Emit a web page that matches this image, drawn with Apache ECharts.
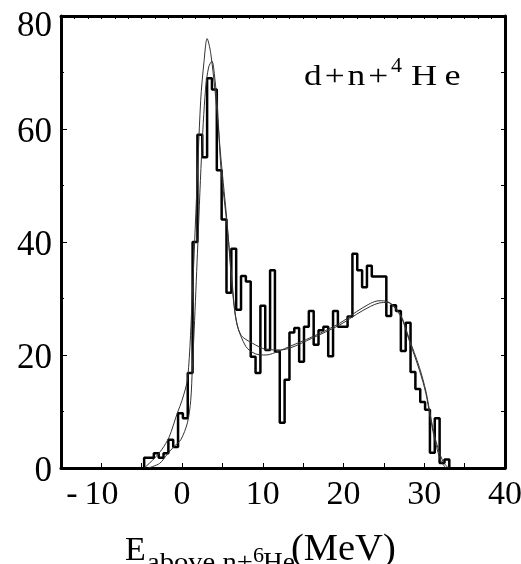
<!DOCTYPE html>
<html>
<head>
<meta charset="utf-8">
<script src="https://cdn.jsdelivr.net/npm/echarts@6/dist/echarts.min.js"></script>
<style>
html,body{margin:0;padding:0;background:#fff}
#c{width:521px;height:564px}
</style>
</head>
<body>
<div id="c"></div>
<script>
// Histogram: first bin edge and bin width (MeV), counts per bin
const binStart = -4.7;
const binWidth = 0.6;
const counts = [
  1.8, 1.8, 2.6, 1.8, 2.6, 5, 3.7, 9.7, 8.8, 16.8,
  40, 59, 55, 69, 67, 52.7, 44, 31, 38.8, 28,
  34, 33, 19.7, 16.8, 28.7, 20.9, 35, 20.6, 8, 15.6,
  24, 24.8, 18.8, 25, 27.8, 21.8, 24.4, 25, 19.8, 27.8,
  25, 25, 26.8, 37.9, 35, 32, 35.8, 33.9, 33.9, 33.9,
  26.9, 28.8, 27.8, 20.7, 25.7, 17, 14, 11.7, 10.3, 2.7,
  8.8, 0.9, 1.5
];

// Fitted spectra [E (MeV), counts]
const fitA = [
  [-4.7, 0], [-3.5, 1.6], [-2.5, 3.3], [-1.6, 5.5], [-0.6, 9.7], [0, 12],
  [0.7, 16], [1.28, 31], [1.7, 45], [2.3, 65], [2.7, 71.7], [3.1, 76],
  [3.55, 73.4], [4.2, 65], [4.8, 55], [5.6, 43], [6.2, 32], [6.8, 25.5],
  [7.9, 21.5], [9.1, 20.2], [10.4, 20], [12, 20.7], [13.3, 21.5], [16.1, 23.2],
  [19.5, 25.6], [22.3, 28.3], [24.4, 29.6], [25.5, 29.4], [27.1, 26.8],
  [28.1, 22.7], [29.4, 17.3], [30.2, 13.2], [30.8, 8.5], [31.4, 4.4],
  [32.1, 1.1], [32.7, 0]
];
const fitB = [
  [-4.2, 0], [-2.8, 0.8], [-1.8, 2.5], [-1.0, 3.8], [-0.16, 5], [0.66, 8],
  [1.07, 12], [1.28, 18], [1.5, 24.5], [1.9, 38], [2.4, 55], [2.9, 67],
  [3.3, 71], [3.7, 72], [4.05, 69], [4.4, 63.4], [4.8, 53.3], [5.6, 42.5],
  [6.2, 33], [6.65, 26.5], [7.3, 23.5], [8.7, 22.1], [10.4, 21], [12.2, 20.9],
  [13.5, 21.3], [16, 22.9], [19.5, 25.3], [22.3, 27.8], [24.4, 29.2],
  [25.5, 29.3], [27.1, 27], [28.1, 23], [29.4, 17.8], [30.2, 13.6],
  [30.8, 9], [31.4, 5], [32.3, 1.2], [33.0, 0]
];

// Axis ranges and labelled ticks
const xRange = [-15, 40];
const yRange = [0, 80];
const xLabels = [-10, 0, 10, 20, 30, 40];
const yLabels = [0, 20, 40, 60, 80];

// Step outline of the histogram
const histLine = [[binStart, 0]];
counts.forEach((v, i) => {
  const x0 = +(binStart + i * binWidth).toFixed(3);
  const x1 = +(binStart + (i + 1) * binWidth).toFixed(3);
  histLine.push([x0, v], [x1, v]);
});
histLine.push([+(binStart + counts.length * binWidth).toFixed(3), 0]);

const SERIF = '"Liberation Serif", "Times New Roman", serif';
const frame = { show: true, onZero: false, lineStyle: { color: '#000', width: 3 } };
const txt = (text, x, y, size, sx) => ({
  type: 'text', x: x, y: y, scaleX: sx || 1,
  style: { text: text, font: size + 'px ' + SERIF, fill: '#000', verticalAlign: 'top' }
});

const chart = echarts.init(document.getElementById('c'));
chart.setOption({
  animation: false,
  backgroundColor: '#fff',
  grid: { left: 61, right: 16, top: 16, bottom: 96, outerBoundsMode: 'none', containLabel: false },
  xAxis: [
    {
      type: 'value', position: 'bottom', min: xRange[0], max: xRange[1], interval: 5,
      axisLine: frame,
      axisTick: { show: true, inside: true, length: 5, lineStyle: { color: '#000', width: 1 } },
      axisLabel: {
        margin: 10, color: '#000', fontFamily: SERIF, fontSize: 34,
        formatter: v => {
          if (!xLabels.includes(v)) return '';
          return v < 0 ? '{neg|-\u2009' + Math.abs(v) + '}' : String(v);
        },
        rich: { neg: { fontFamily: SERIF, fontSize: 34, color: '#000', padding: [0, 18, 0, 0] } }
      },
      splitLine: { show: false }
    },
    {
      type: 'value', position: 'top', min: xRange[0], max: xRange[1], interval: 5,
      axisLine: frame,
      axisTick: { show: true, inside: true, length: 3, lineStyle: { color: '#000', width: 1 } },
      minorTick: { show: true, splitNumber: 3, length: 3, lineStyle: { color: '#000', width: 1 } },
      axisLabel: { show: false },
      splitLine: { show: false }
    }
  ],
  yAxis: [
    {
      type: 'value', position: 'left', min: yRange[0], max: yRange[1], interval: 20,
      axisLine: frame,
      axisTick: { show: true, inside: true, length: 6, lineStyle: { color: '#000', width: 1 } },
      minorTick: { show: true, splitNumber: 2, length: 3, lineStyle: { color: '#000', width: 1 } },
      axisLabel: {
        margin: 9, color: '#000', fontFamily: SERIF, fontSize: 35,
        formatter: v => {
          if (!yLabels.includes(v)) return '';
          return (v === yRange[1] ? '{gapTop| }' : '{gap| }') + '\n{n|' + v + '}';
        },
        rich: {
          gap: { fontSize: 6, lineHeight: 8, height: 8 },
          gapTop: { fontSize: 6, lineHeight: 22, height: 22 },
          n: { fontFamily: SERIF, fontSize: 35, color: '#000' }
        }
      },
      splitLine: { show: false }
    },
    {
      type: 'value', position: 'right', min: yRange[0], max: yRange[1], interval: 10,
      axisLine: frame,
      axisTick: { show: true, inside: true, length: 4, lineStyle: { color: '#000', width: 1 } },
      axisLabel: { show: false },
      splitLine: { show: false }
    }
  ],
  series: [
    {
      name: 'data', type: 'line', data: histLine, xAxisIndex: 0, yAxisIndex: 0,
      showSymbol: false, lineStyle: { color: '#000', width: 2.5 }, z: 3
    },
    {
      name: 'fit A', type: 'line', data: fitA, xAxisIndex: 0, yAxisIndex: 0,
      smooth: 0.3, showSymbol: false, lineStyle: { color: '#333', width: 1 }, z: 4
    },
    {
      name: 'fit B', type: 'line', data: fitB, xAxisIndex: 0, yAxisIndex: 0,
      smooth: 0.3, showSymbol: false, lineStyle: { color: '#333', width: 1 }, z: 4
    }
  ],
  graphic: [
    // reaction channel label
    txt('d\u200a+\u200an\u200a+', 304, 63, 29, 1.22),
    txt('4', 391, 57, 20, 1.1),
    txt('H\u2009e', 411, 63, 29, 1.25),
    // x axis title
    txt('E', 125, 534, 34, 1),
    txt('above n+', 147, 550, 26, 1.1),
    txt('6', 253, 546, 21, 1.05),
    txt('He', 263, 550, 26, 1.05),
    txt('(MeV)', 291, 532, 37, 1.04)
  ]
});
</script>
</body>
</html>
